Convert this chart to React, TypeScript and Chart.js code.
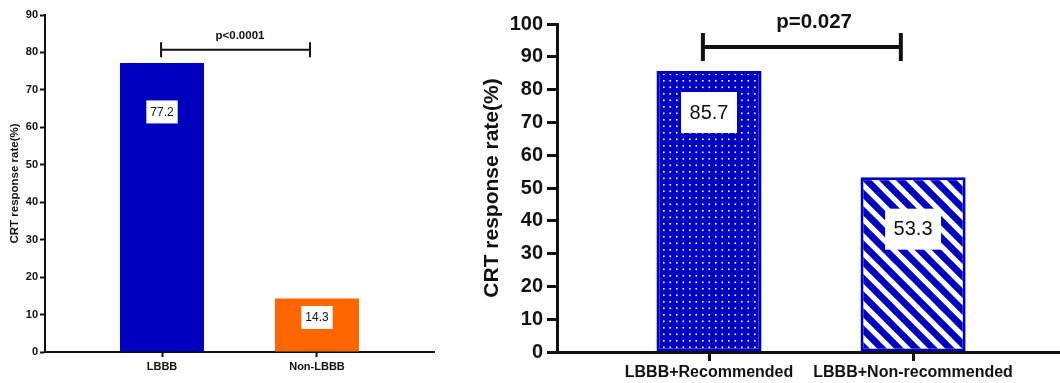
import React, { useEffect, useRef } from "react";
import { Chart, registerables } from "chart.js";

Chart.register(...registerables);

// ---- data ----
const lbbbCategories = ["LBBB", "Non-LBBB"];
const lbbbRates = [77.2, 14.3];
const lbbbPValue = "p<0.0001";
const lbbbYMax = 90;

const recCategories = ["LBBB+Recommended", "LBBB+Non-recommended"];
const recRates = [85.7, 53.3];
const recPValue = "p=0.027";
const recYMax = 100;

const yTitle = "CRT response rate(%)";
const yStep = 10;

const FONT = '"Liberation Sans", Arial, Helvetica, sans-serif';
const BLUE = "#0000C0";
const ORANGE = "#FF6600";

// white dotted fill on blue
function makeDotPattern(): CanvasPattern | string {
  const c = document.createElement("canvas");
  c.width = 13;
  c.height = 13;
  const g = c.getContext("2d");
  if (!g) return BLUE;
  g.fillStyle = BLUE;
  g.fillRect(0, 0, 13, 13);
  g.fillStyle = "#ffffff";
  for (const px of [2, 8.5]) {
    for (const py of [2, 8.5]) {
      g.fillRect(px, py, 1.6, 1.6);
    }
  }
  return g.createPattern(c, "repeat") || BLUE;
}

// white diagonal stripes on blue
function makeStripePattern(): CanvasPattern | string {
  const s = 17;
  const c = document.createElement("canvas");
  c.width = s;
  c.height = s;
  const g = c.getContext("2d");
  if (!g) return BLUE;
  g.fillStyle = BLUE;
  g.fillRect(0, 0, s, s);
  g.strokeStyle = "#ffffff";
  g.lineWidth = 5.2;
  for (const k of [-1, 0, 1]) {
    g.beginPath();
    g.moveTo(-2, k * s - 2);
    g.lineTo(s + 2, s + k * s + 2);
    g.stroke();
  }
  return g.createPattern(c, "repeat") || BLUE;
}

// value boxes inside bars + significance bracket
const annotatePlugin = {
  id: "annotate",
  afterDatasetsDraw(chart: any, _args: any, opts: any) {
    const ctx = chart.ctx as CanvasRenderingContext2D;
    const meta = chart.getDatasetMeta(0);
    const xs = chart.scales.x;
    const ys = chart.scales.y;
    ctx.save();
    ctx.font = `${opts.boxFontSize}px ${FONT}`;
    ctx.textAlign = "center";
    ctx.textBaseline = "middle";
    meta.data.forEach((bar: any, i: number) => {
      const v = chart.data.datasets[0].data[i].y as number;
      const text = v.toFixed(1);
      const cx = bar.x;
      const cy = bar.y + opts.boxDrops[i];
      const w = ctx.measureText(text).width + 2 * opts.boxPadX;
      const h = opts.boxFontSize + 2 * opts.boxPadY;
      ctx.fillStyle = "#ffffff";
      ctx.fillRect(cx - w / 2, cy - h / 2, w, h);
      ctx.fillStyle = "#111111";
      ctx.fillText(text, cx, cy + 0.5);
    });

    const b = opts.bracket;
    const x1 = xs.getPixelForValue(b.from);
    const x2 = xs.getPixelForValue(b.to);
    const y = ys.getPixelForValue(b.level);
    ctx.strokeStyle = "#111111";
    ctx.lineWidth = b.lineWidth;
    ctx.beginPath();
    ctx.moveTo(x1, y);
    ctx.lineTo(x2, y);
    ctx.moveTo(x1, y - b.cap);
    ctx.lineTo(x1, y + b.cap);
    ctx.moveTo(x2, y - b.cap);
    ctx.lineTo(x2, y + b.cap);
    ctx.stroke();
    ctx.font = `bold ${b.fontSize}px ${FONT}`;
    ctx.textBaseline = "alphabetic";
    ctx.fillStyle = "#111111";
    ctx.fillText(b.text, xs.getPixelForValue(b.textAt), y - b.textGap);
    ctx.restore();
  },
};

type PanelSpec = {
  categories: string[];
  values: number[];
  colors: any[];
  borderWidth: number;
  barPercentage: number;
  xMin: number;
  xMax: number;
  yMax: number;
  padding: { left: number; right: number; top: number; bottom: number };
  yWidth: number;
  xHeight: number;
  tickFont: number;
  xFont: number;
  titleFont: number;
  titlePad: number;
  axisWidth: number;
  yTickLen: number;
  xTickLen: number;
  yTickPad: number;
  xTickPad: number;
  annotate: any;
};

function buildConfig(p: PanelSpec): any {
  return {
    type: "bar",
    data: {
      datasets: [
        {
          data: p.categories.map((_, i) => ({ x: i + 1, y: p.values[i] })),
          backgroundColor: p.colors,
          borderColor: BLUE,
          borderWidth: p.borderWidth,
          borderSkipped: false,
          barPercentage: p.barPercentage,
          categoryPercentage: 1,
        },
      ],
    },
    options: {
      animation: false,
      responsive: false,
      events: [],
      layout: { padding: p.padding },
      plugins: {
        legend: { display: false },
        tooltip: { enabled: false },
        annotate: p.annotate,
      },
      scales: {
        x: {
          type: "linear",
          min: p.xMin,
          max: p.xMax,
          offset: false,
          z: 1,
          afterBuildTicks: (s: any) => {
            s.ticks = p.categories.map((_, i) => ({ value: i + 1 }));
          },
          afterFit: (s: any) => {
            s.height = p.xHeight;
          },
          ticks: {
            autoSkip: false,
            maxRotation: 0,
            padding: p.xTickPad,
            color: "#111111",
            font: { family: FONT, size: p.xFont, weight: "bold" },
            callback: (v: number) => p.categories[Math.round(v) - 1] ?? "",
          },
          grid: {
            offset: false,
            drawOnChartArea: false,
            drawTicks: true,
            tickLength: p.xTickLen,
            tickWidth: p.axisWidth,
            tickColor: "#111111",
          },
          border: { display: true, color: "#111111", width: p.axisWidth },
        },
        y: {
          min: 0,
          max: p.yMax,
          z: 1,
          afterFit: (s: any) => {
            s.width = p.yWidth;
          },
          ticks: {
            stepSize: yStep,
            padding: p.yTickPad,
            color: "#111111",
            font: { family: FONT, size: p.tickFont, weight: "bold" },
          },
          grid: {
            drawOnChartArea: false,
            drawTicks: true,
            tickLength: p.yTickLen,
            tickWidth: p.axisWidth,
            tickColor: "#111111",
          },
          border: { display: true, color: "#111111", width: p.axisWidth },
          title: {
            display: true,
            text: yTitle,
            color: "#111111",
            font: { family: FONT, size: p.titleFont, weight: "bold" },
            padding: { top: p.titlePad, bottom: 0 },
          },
        },
      },
    },
    plugins: [annotatePlugin],
  };
}

function BarPanel({ spec, width, height }: { spec: () => PanelSpec; width: number; height: number }) {
  const ref = useRef<HTMLCanvasElement | null>(null);
  useEffect(() => {
    if (!ref.current) return;
    const chart = new Chart(ref.current, buildConfig(spec()));
    return () => chart.destroy();
  }, []);
  return <canvas ref={ref} width={width} height={height} style={{ display: "block" }} />;
}

const lbbbSpec = (): PanelSpec => ({
  categories: lbbbCategories,
  values: lbbbRates,
  colors: [BLUE, ORANGE],
  borderWidth: 0,
  barPercentage: 0.542,
  xMin: 0.245,
  xMax: 2.755,
  yMax: lbbbYMax,
  padding: { left: 0, right: 6, top: 15, bottom: 0 },
  yWidth: 45,
  xHeight: 31,
  tickFont: 11,
  xFont: 11,
  titleFont: 11.5,
  titlePad: 8,
  axisWidth: 2,
  yTickLen: 5,
  xTickLen: 5,
  yTickPad: 2,
  xTickPad: 3,
  annotate: {
    boxFontSize: 12,
    boxPadX: 4,
    boxPadY: 5.5,
    boxDrops: [49, 19],
    bracket: {
      from: 0.994,
      to: 1.955,
      level: 80.7,
      cap: 7.5,
      lineWidth: 2,
      text: lbbbPValue,
      textAt: 1.503,
      textGap: 10.5,
      fontSize: 11.5,
    },
  },
});

const recSpec = (): PanelSpec => ({
  categories: recCategories,
  values: recRates,
  colors: [makeDotPattern(), makeStripePattern()],
  borderWidth: 3,
  barPercentage: 0.515,
  xMin: 0.255,
  xMax: 2.72,
  yMax: recYMax,
  padding: { left: 0, right: 0, top: 24, bottom: 0 },
  yWidth: 117,
  xHeight: 31,
  tickFont: 20,
  xFont: 16,
  titleFont: 21,
  titlePad: 39.4,
  axisWidth: 3,
  yTickLen: 10,
  xTickLen: 9,
  yTickPad: 4,
  xTickPad: 1.5,
  annotate: {
    boxFontSize: 20,
    boxPadX: 8.5,
    boxPadY: 10.5,
    boxDrops: [41.6, 52],
    bracket: {
      from: 0.97,
      to: 1.94,
      level: 93,
      cap: 14,
      lineWidth: 4,
      text: recPValue,
      textAt: 1.515,
      textGap: 18.5,
      fontSize: 20.5,
    },
  },
});

export default function App() {
  return (
    <div
      style={{
        position: "absolute",
        left: 0,
        top: 0,
        width: 1060,
        height: 383,
        background: "#ffffff",
        overflow: "hidden",
      }}
    >
      <div style={{ position: "absolute", left: 0, top: 0 }}>
        <BarPanel spec={lbbbSpec} width={440} height={383} />
      </div>
      <div style={{ position: "absolute", left: 440, top: 0 }}>
        <BarPanel spec={recSpec} width={620} height={383} />
      </div>
    </div>
  );
}
